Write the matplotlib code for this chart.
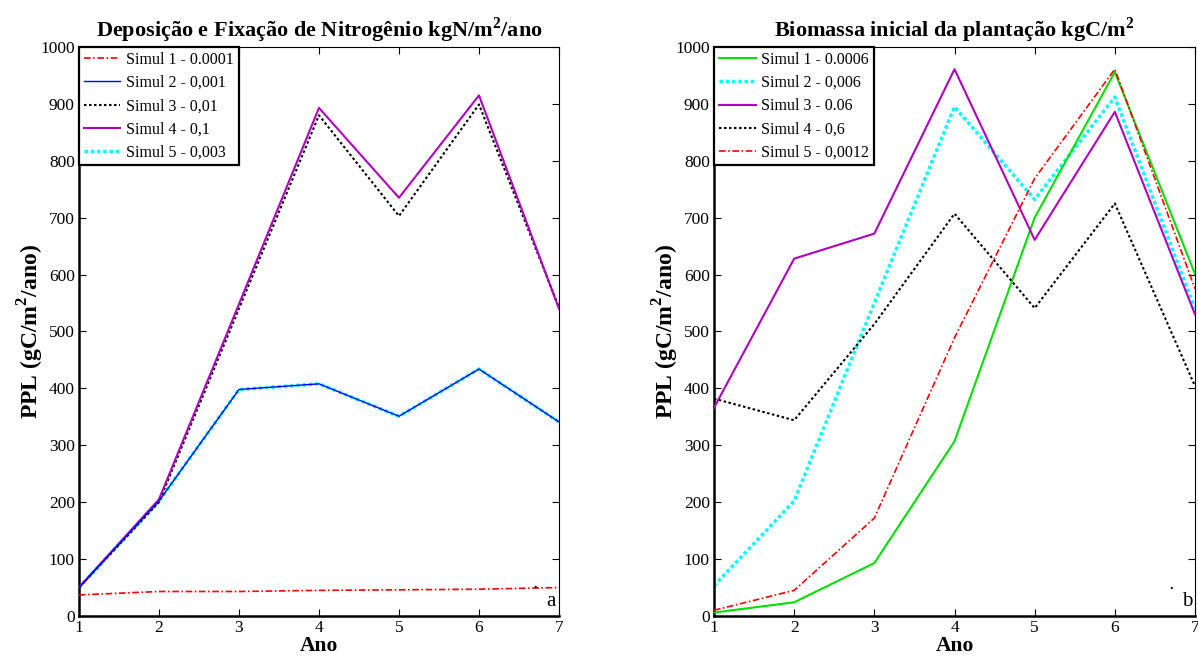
import matplotlib
matplotlib.use("Agg")
import matplotlib.pyplot as plt

plt.rcParams['font.family'] = 'Liberation Serif'
plt.rcParams['mathtext.fontset'] = 'custom'
plt.rcParams['mathtext.rm'] = 'Liberation Serif'
plt.rcParams['mathtext.bf'] = 'Liberation Serif:bold'

anos = [1, 2, 3, 4, 5, 6, 7]

# painel a - deposicao e fixacao de N
a_simul1 = [37, 43, 43, 45, 46, 47, 50]
a_simul2 = [50, 202, 398, 408, 351, 434, 341]
a_simul3 = [50, 200, 540, 880, 703, 899, 542]
a_simul4 = [50, 205, 548, 893, 735, 915, 540]
a_simul5 = [50, 202, 398, 408, 351, 434, 341]
a_labels = ["Simul 1 - 0.0001", "Simul 2 - 0,001", "Simul 3 - 0,01",
            "Simul 4 - 0,1", "Simul 5 - 0,003"]

# painel b - biomassa inicial
b_simul1 = [6, 24, 93, 307, 700, 956, 601]
b_simul2 = [53, 202, 550, 895, 732, 912, 540]
b_simul3 = [366, 628, 672, 961, 661, 886, 530]
b_simul4 = [382, 344, 513, 707, 541, 725, 404]
b_simul5 = [10, 45, 172, 489, 769, 961, 575]
b_labels = ["Simul 1 - 0.0006", "Simul 2 - 0,006", "Simul 3 - 0.06",
            "Simul 4 - 0,6", "Simul 5 - 0,0012"]

dashdot = (0, (4, 1.5, 1, 1.5))
dotted = (0, (1.2, 1.2))

fig = plt.figure(figsize=(11.98, 6.59), dpi=100)
ax1 = fig.add_axes([0.0659, 0.0653, 0.4007, 0.8634])
ax2 = fig.add_axes([0.596, 0.0653, 0.4015, 0.8634])

ax1.plot(anos, a_simul1, color='red', ls=dashdot, lw=1.2, label=a_labels[0], zorder=3)
ax1.plot(anos, a_simul2, color='blue', ls='-', lw=1.0, label=a_labels[1], zorder=4)
ax1.plot(anos, a_simul3, color='black', ls=dotted, lw=1.5, label=a_labels[2], zorder=3)
ax1.plot(anos, a_simul4, color='#b000c0', ls='-', lw=1.5, label=a_labels[3], zorder=3)
ax1.plot(anos, a_simul5, color='cyan', ls=(0, (1, 0.8)), lw=2.5, label=a_labels[4], zorder=2)
ax1.text(6.84, 18, "a", fontsize=15)
ax1.text(6.68, 50, ".", fontsize=10, fontweight='bold')
ax1.set_title("Deposição e Fixação de Nitrogênio kgN/m$^{\\mathbf{2}}$/ano",
              fontsize=16, fontweight='bold', pad=7)

ax2.plot(anos, b_simul1, color='#00e000', ls='-', lw=1.5, label=b_labels[0], zorder=3)
ax2.plot(anos, b_simul2, color='cyan', ls=(0, (1, 0.8)), lw=2.5, label=b_labels[1], zorder=2)
ax2.plot(anos, b_simul3, color='#b000c0', ls='-', lw=1.5, label=b_labels[2], zorder=3)
ax2.plot(anos, b_simul4, color='black', ls=dotted, lw=1.5, label=b_labels[3], zorder=3)
ax2.plot(anos, b_simul5, color='red', ls=dashdot, lw=1.2, label=b_labels[4], zorder=3)
ax2.text(6.84, 18, "b", fontsize=15)
ax2.text(6.68, 48, ".", fontsize=10, fontweight='bold')
ax2.set_title("Biomassa inicial da plantação kgC/m$^{\\mathbf{2}}$",
              fontsize=16, fontweight='bold', pad=7)

for ax in (ax1, ax2):
    ax.set_xlim(1, 7)
    ax.set_ylim(0, 1000)
    ax.set_xticks(anos)
    ax.set_yticks(range(0, 1001, 100))
    ax.tick_params(direction='in', top=True, right=True, labelsize=12.5, length=5, pad=3)
    ax.set_xlabel("Ano", fontsize=15.5, fontweight='bold', labelpad=0)
    ax.set_ylabel("PPL (gC/m$^{\\mathbf{2}}$/ano)", fontsize=17, fontweight='bold', labelpad=-4)
    ax.spines['left'].set_linewidth(1.8)
    ax.spines['bottom'].set_linewidth(1.8)
    ax.spines['top'].set_linewidth(0.8)
    ax.spines['right'].set_linewidth(0.8)
    leg = ax.legend(loc='upper left', fontsize=11.5, fancybox=False, framealpha=1,
                    borderaxespad=0, handlelength=2.3, borderpad=0.3,
                    labelspacing=0.45, handletextpad=0.35)
    leg.get_frame().set_edgecolor('black')
    leg.get_frame().set_linewidth(1.6)

fig.savefig("out.png", dpi=100)
